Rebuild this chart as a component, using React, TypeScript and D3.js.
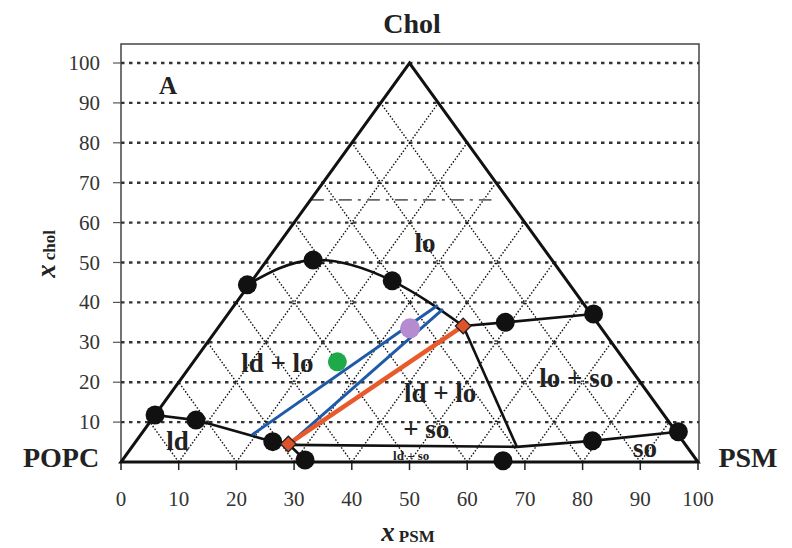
import React from "react";
import * as d3 from "d3";

// Axis ticks
const xTicks = [0, 10, 20, 30, 40, 50, 60, 70, 80, 90, 100];
const yTicks = [10, 20, 30, 40, 50, 60, 70, 80, 90, 100];
// Ternary grid levels
const gridLevels = [10, 20, 30, 40, 50, 60, 70, 80, 90];

// Triangle vertices (POPC, PSM, Chol) in plot coords [x, y]
const triangle: [number, number][] = [[0, 0], [100, 0], [50, 100]];

// Phase-boundary points (black circles) [x, y]
const boundaryPoints: [number, number][] = [
  [5.9, 11.8], [13.0, 10.5], [26.3, 5.1], [31.9, 0.5], [66.2, 0.3],
  [81.7, 5.3], [96.6, 7.6], [66.6, 35.0], [81.9, 37.1],
  [21.9, 44.4], [33.3, 50.6], [47.0, 45.4],
];
// Tie-line end points (orange diamonds)
const diamonds: [number, number][] = [[29.0, 4.5], [59.3, 34.1]];

// Boundary lines
const ldBoundary: [number, number][] = [[5.9, 11.8], [13.0, 10.5], [26.3, 5.1], [29.0, 4.5], [31.9, 0.5]];
const soBoundary: [number, number][] = [[29.0, 4.3], [68.6, 3.8], [81.7, 5.3], [96.6, 7.6]];
const threePhaseRight: [number, number][] = [[68.6, 3.8], [59.3, 34.1]];
const loSoBoundary: [number, number][] = [[59.3, 34.1], [66.6, 35.0], [81.9, 37.1]];
const loArc: [number, number][] = [[21.9, 44.4], [33.3, 50.6], [47.0, 45.4], [59.3, 34.1]];
const dashedLevel: [number, number][] = [[32.9, 65.7], [64.2, 65.7]];

// Tie lines
const blueTies: [number, number][][] = [
  [[22.7, 6.8], [54.9, 39.3]],
  [[29.8, 5.3], [55.8, 38.3]],
];
const orangeTie: [number, number][] = [[29.0, 4.5], [59.3, 34.1]];

// Sample compositions
const greenPoint: [number, number] = [37.5, 25.1];
const purplePoint: [number, number] = [50.1, 33.5];

export default function App() {
  const x = d3.scaleLinear().domain([0, 100]).range([121, 698]);
  const y = d3.scaleLinear().domain([0, 100]).range([462, 63]);
  const line = d3.line<[number, number]>().x((d) => x(d[0])).y((d) => y(d[1]));
  const arc = d3.line<[number, number]>().x((d) => x(d[0])).y((d) => y(d[1])).curve(d3.curveNatural);

  const serif = "'Liberation Serif', 'Times New Roman', serif";
  const frameLeft = 121, frameRight = 699, frameTop = 44, frameBottom = 462;

  // Ternary grid lines
  const gridA = gridLevels.map((p) => [[p, 0], [p + (100 - p) / 2, 100 - p]] as [number, number][]);
  const gridB = gridLevels.map((s) => [[s, 0], [s / 2, s]] as [number, number][]);

  return (
    <svg width={792} height={548} style={{ position: "absolute", left: 0, top: 0, background: "#fff" }} fontFamily={serif}>
      <rect x={0} y={0} width={792} height={548} fill="#fff" />
      {/* frame */}
      <rect x={frameLeft} y={frameTop} width={frameRight - frameLeft} height={frameBottom - frameTop} fill="none" stroke="#444" strokeWidth={1.5} />
      {/* horizontal gridlines */}
      {yTicks.map((t) => (
        <g key={"yg" + t}>
          <line x1={frameLeft} x2={frameRight} y1={y(t)} y2={y(t)} stroke="#333" strokeWidth={2.4} strokeDasharray="3.5,4.5" />
          <line x1={frameLeft - 8} x2={frameLeft} y1={y(t)} y2={y(t)} stroke="#555" strokeWidth={1.2} />
          <text x={100} y={y(t) + 7} textAnchor="end" fontSize={21} fill="#333">{t}</text>
        </g>
      ))}
      {/* ternary dotted grid */}
      {gridA.concat(gridB).map((g, i) => (
        <path key={"tg" + i} d={line(g) || ""} stroke="#111" strokeWidth={1.4} strokeDasharray="1.5,1.8" fill="none" />
      ))}
      {/* dashed level line */}
      <path d={line(dashedLevel) || ""} stroke="#666" strokeWidth={1.6} strokeDasharray="13,6,3,6" fill="none" />
      {/* x ticks & labels */}
      {xTicks.map((t) => (
        <g key={"xt" + t}>
          <line x1={x(t)} x2={x(t)} y1={frameBottom} y2={frameBottom + 8} stroke="#222" strokeWidth={1.5} />
          <text x={x(t)} y={506} textAnchor="middle" fontSize={21} fill="#333">{t}</text>
        </g>
      ))}
      {/* triangle */}
      <path d={(line(triangle) || "") + "Z"} stroke="#111" strokeWidth={3} fill="none" strokeLinejoin="miter" />
      {/* phase boundaries */}
      {[ldBoundary, soBoundary, threePhaseRight, loSoBoundary].map((b, i) => (
        <path key={"b" + i} d={line(b) || ""} stroke="#111" strokeWidth={2.6} fill="none" />
      ))}
      <path d={arc(loArc) || ""} stroke="#111" strokeWidth={2.6} fill="none" />
      {/* tie lines */}
      {blueTies.map((t, i) => (
        <path key={"bt" + i} d={line(t) || ""} stroke="#1f5aa8" strokeWidth={3} fill="none" />
      ))}
      <path d={line(orangeTie) || ""} stroke="#e85a2a" strokeWidth={4.5} fill="none" />
      {/* boundary points */}
      {boundaryPoints.map((p, i) => (
        <circle key={"bp" + i} cx={x(p[0])} cy={y(p[1])} r={9.5} fill="#111" />
      ))}
      {diamonds.map((p, i) => (
        <rect key={"dm" + i} x={x(p[0]) - 5.5} y={y(p[1]) - 5.5} width={11} height={11} fill="#e0522a" stroke="#222" strokeWidth={1.3}
          transform={`rotate(45 ${x(p[0])} ${y(p[1])})`} />
      ))}
      <circle cx={x(greenPoint[0])} cy={y(greenPoint[1])} r={9.5} fill="#1faa4a" />
      <circle cx={x(purplePoint[0])} cy={y(purplePoint[1])} r={10} fill="#b48ccf" />
      {/* region labels */}
      <g fontWeight="bold" fill="#222" fontSize={27}>
        <text x={x(52.7)} y={y(52.6)} textAnchor="middle">lo</text>
        <text x={x(27.1)} y={y(22.6)} textAnchor="middle">ld + lo</text>
        <text x={x(55.3)} y={y(15.0)} textAnchor="middle">ld + lo</text>
        <text x={x(52.9)} y={y(6.0)} textAnchor="middle">+ so</text>
        <text x={x(78.9)} y={y(18.8)} textAnchor="middle">lo + so</text>
        <text x={x(9.8)} y={y(3.0)} textAnchor="middle">ld</text>
        <text x={x(90.8)} y={y(1.3)} textAnchor="middle">so</text>
        <text x={x(50.3)} y={y(0.4)} textAnchor="middle" fontSize={13}>ld + so</text>
      </g>
      {/* corner labels */}
      <text x={168} y={94} textAnchor="middle" fontWeight="bold" fontSize={25} fill="#222">A</text>
      <text x={412} y={33} textAnchor="middle" fontWeight="bold" fontSize={28} fill="#222">Chol</text>
      <text x={61} y={467} textAnchor="middle" fontWeight="bold" fontSize={28} fill="#222">POPC</text>
      <text x={748} y={467} textAnchor="middle" fontWeight="bold" fontSize={28} fill="#222">PSM</text>
      {/* axis titles */}
      <text x={408} y={541} textAnchor="middle" fill="#222" fontWeight="bold">
        <tspan fontStyle="italic" fontSize={27}>x</tspan>
        <tspan fontSize={17} dx={4} dy={1}>PSM</tspan>
      </text>
      <text transform="translate(55,254) rotate(-90)" textAnchor="middle" fill="#222" fontWeight="bold">
        <tspan fontStyle="italic" fontSize={27}>x</tspan>
        <tspan fontSize={17} dx={4}>chol</tspan>
      </text>
    </svg>
  );
}
